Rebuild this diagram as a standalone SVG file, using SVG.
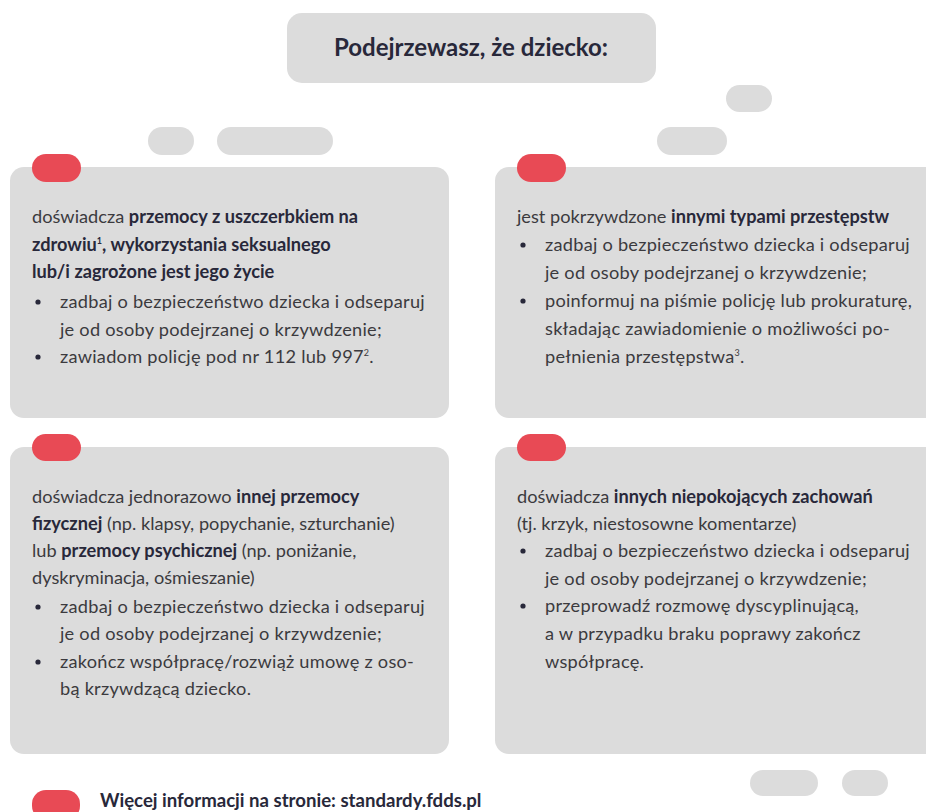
<svg xmlns="http://www.w3.org/2000/svg" width="926" height="812" viewBox="0 0 926 812">
<style>
.box{fill:#dcdcdc}
.pill{fill:#dcdcdc}
.red{fill:#e84a55}
text{font-family:Lato,"Open Sans",sans-serif;font-size:18.2px;fill:#3b3a3e}
.li{letter-spacing:0.25px}
.b{font-weight:bold;fill:#28283a}
.title{font-size:24px;font-weight:bold;fill:#28283a}
.foot{font-size:18.6px}
.sup{font-size:9px}
.dot{fill:#28283a}
</style>
<rect width="926" height="812" fill="#ffffff"/>
<g id="header">
<rect x="287" y="13" width="369" height="70" rx="15" class="box"/>
<text x="471" y="56" text-anchor="middle" class="title">Podejrzewasz, że dziecko:</text>
</g>
<g id="decor">
<rect x="148" y="127" width="46" height="28" rx="14" class="pill"/>
<rect x="217" y="127" width="116" height="28" rx="14" class="pill"/>
<rect x="657" y="127" width="70" height="28" rx="14" class="pill"/>
<rect x="726" y="85" width="46" height="27" rx="13.5" class="pill"/>
<rect x="750" y="770" width="68" height="26" rx="13" class="pill"/>
<rect x="842" y="770" width="46" height="26" rx="13" class="pill"/>
</g>
<g id="box1">
<rect x="10" y="167" width="439" height="251" rx="14" class="box"/>
<rect x="32" y="154" width="49" height="28" rx="14" class="red"/>
<text x="32" y="223">doświadcza <tspan class="b">przemocy z uszczerbkiem na</tspan></text>
<text x="32" y="250.5" class="b">zdrowiu<tspan class="sup" dy="-7">1</tspan><tspan dy="7">, wykorzystania seksualnego</tspan></text>
<text x="32" y="278" class="b">lub/i zagrożone jest jego życie</text>
<circle cx="38" cy="302" r="2.6" class="dot"/>
<text x="60" y="308" class="li">zadbaj o bezpieczeństwo dziecka i odseparuj</text>
<text x="60" y="335.5" class="li">je od osoby podejrzanej o krzywdzenie;</text>
<circle cx="38" cy="357" r="2.6" class="dot"/>
<text x="60" y="363" class="li">zawiadom policję pod nr 112 lub 997<tspan class="sup" dy="-7">2</tspan><tspan dy="7">.</tspan></text>
</g>
<g id="box2">
<rect x="495" y="167" width="445" height="251" rx="14" class="box"/>
<rect x="517" y="154" width="49" height="28" rx="14" class="red"/>
<text x="517" y="223">jest pokrzywdzone <tspan class="b">innymi typami przestępstw</tspan></text>
<circle cx="523" cy="245" r="2.6" class="dot"/>
<text x="545" y="251" class="li">zadbaj o bezpieczeństwo dziecka i odseparuj</text>
<text x="545" y="278.5" class="li">je od osoby podejrzanej o krzywdzenie;</text>
<circle cx="523" cy="301" r="2.6" class="dot"/>
<text x="545" y="307" class="li">poinformuj na piśmie policję lub prokuraturę,</text>
<text x="545" y="335" class="li">składając zawiadomienie o możliwości po-</text>
<text x="545" y="363" class="li">pełnienia przestępstwa<tspan class="sup" dy="-7">3</tspan><tspan dy="7">.</tspan></text>
</g>
<g id="box3">
<rect x="10" y="447" width="439" height="307" rx="14" class="box"/>
<rect x="32" y="434" width="49" height="27" rx="13.5" class="red"/>
<text x="32" y="503">doświadcza jednorazowo <tspan class="b">innej przemocy</tspan></text>
<text x="32" y="530"><tspan class="b">fizycznej</tspan> (np. klapsy, popychanie, szturchanie)</text>
<text x="32" y="556.5">lub <tspan class="b">przemocy psychicznej</tspan> (np. poniżanie,</text>
<text x="32" y="583.5">dyskryminacja, ośmieszanie)</text>
<circle cx="38" cy="607" r="2.6" class="dot"/>
<text x="60" y="613" class="li">zadbaj o bezpieczeństwo dziecka i odseparuj</text>
<text x="60" y="640" class="li">je od osoby podejrzanej o krzywdzenie;</text>
<circle cx="38" cy="662" r="2.6" class="dot"/>
<text x="60" y="668" class="li">zakończ współpracę/rozwiąż umowę z oso-</text>
<text x="60" y="695" class="li">bą krzywdzącą dziecko.</text>
</g>
<g id="box4">
<rect x="495" y="447" width="445" height="307" rx="14" class="box"/>
<rect x="517" y="434" width="49" height="27" rx="13.5" class="red"/>
<text x="517" y="503">doświadcza <tspan class="b">innych niepokojących zachowań</tspan></text>
<text x="517" y="530">(tj. krzyk, niestosowne komentarze)</text>
<circle cx="523" cy="551" r="2.6" class="dot"/>
<text x="545" y="557" class="li">zadbaj o bezpieczeństwo dziecka i odseparuj</text>
<text x="545" y="585" class="li">je od osoby podejrzanej o krzywdzenie;</text>
<circle cx="523" cy="606" r="2.6" class="dot"/>
<text x="545" y="612" class="li">przeprowadź rozmowę dyscyplinującą,</text>
<text x="545" y="640" class="li">a w przypadku braku poprawy zakończ</text>
<text x="545" y="668" class="li">współpracę.</text>
</g>
<g id="footer">
<rect x="32" y="790" width="48" height="30" rx="14" class="red"/>
<text x="100" y="807" class="b foot">Więcej informacji na stronie: standardy.fdds.pl</text>
</g>
<g id="connectors"></g>
</svg>
